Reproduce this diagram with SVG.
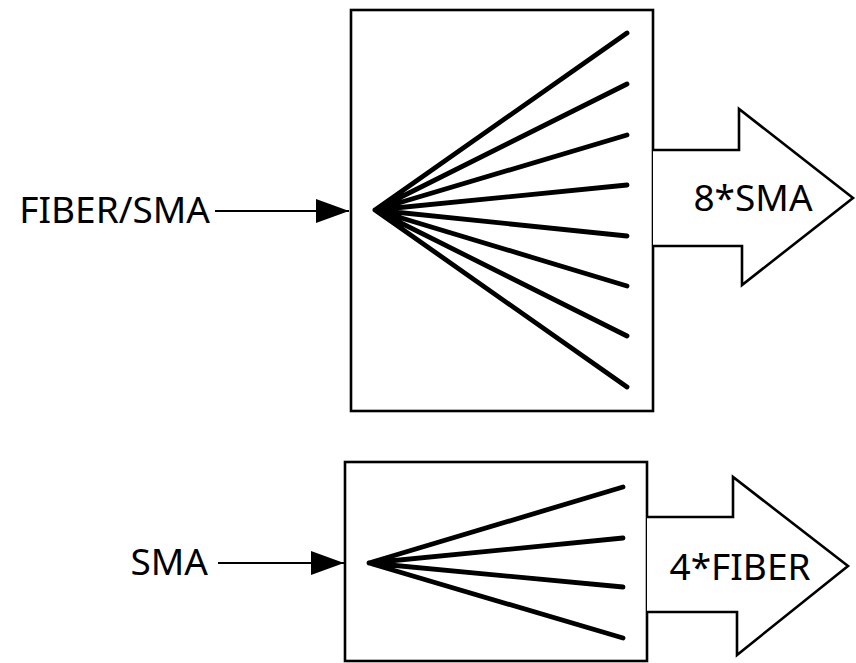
<svg xmlns="http://www.w3.org/2000/svg" width="856" height="663" viewBox="0 0 856 663">
<style>
.box{fill:#fff;stroke:#000;stroke-width:2.6}
.fan{stroke:#000;stroke-width:4.8;stroke-linecap:round;fill:none}
.out{fill:#fff;stroke:#000;stroke-width:2.6;stroke-linejoin:miter}
.ln{stroke:#000;stroke-width:2;fill:none}
text{font-family:"Noto Sans","Open Sans",sans-serif;font-size:37px;fill:#000}
</style>
<defs>
<marker id="ah" markerUnits="userSpaceOnUse" markerWidth="34" markerHeight="26" refX="33" refY="12" orient="auto">
<path d="M0,0 L33,12 L0,24 Z" fill="#000"/>
</marker>
</defs>
<g id="connectors">
<line class="ln" x1="215" y1="211" x2="349" y2="211" marker-end="url(#ah)"/>
<line class="ln" x1="218" y1="563" x2="344" y2="563" marker-end="url(#ah)"/>
</g>
<g id="label-fiber-sma"><text x="210" y="223" text-anchor="end">FIBER/SMA</text></g>
<g id="label-sma"><text x="208" y="575" text-anchor="end">SMA</text></g>
<g id="splitter8">
<rect class="box" x="351" y="10" width="302" height="401"/>
<path class="fan" d="M375,210 L627,33 M375,210 L627,84 M375,210 L627,135 M375,210 L627,185 M375,210 L627,236 M375,210 L627,286 M375,210 L627,336 M375,210 L627,387"/>
</g>
<g id="out8">
<path class="out" d="M653,150 L739,150 L739,109 L853,198 L742,285 L742,246 L653,246"/>
<text x="753" y="211" text-anchor="middle">8*SMA</text>
</g>
<g id="splitter4">
<rect class="box" x="345" y="462" width="302" height="199"/>
<path class="fan" d="M369,563 L623,487 M369,563 L623,538 M369,563 L623,587 M369,563 L623,638"/>
</g>
<g id="out4">
<path class="out" d="M647,517 L733,517 L733,477 L848,566 L737,655 L737,612 L647,612"/>
<text x="740" y="580" text-anchor="middle">4*FIBER</text>
</g>
</svg>
